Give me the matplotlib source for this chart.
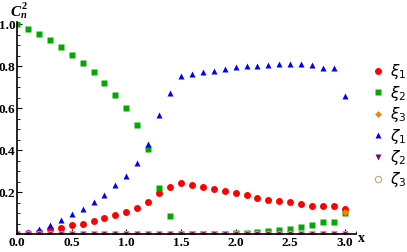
import numpy as np
import matplotlib
matplotlib.use("Agg")
import matplotlib.pyplot as plt
from matplotlib.ticker import MultipleLocator

x = [0.0, 0.1, 0.2, 0.3, 0.4, 0.5, 0.6, 0.7, 0.8, 0.9, 1.0, 1.1, 1.2, 1.3, 1.4, 1.5,
     1.6, 1.7, 1.8, 1.9, 2.0, 2.1, 2.2, 2.3, 2.4, 2.5, 2.6, 2.7, 2.8, 2.9, 3.0]

xi1 = [0.0, 0.004, 0.013, 0.025, 0.032, 0.043, 0.051, 0.065, 0.079, 0.093, 0.106, 0.125,
       0.155, 0.197, 0.224, 0.243, 0.233, 0.225, 0.216, 0.206, 0.198, 0.187, 0.174,
       0.164, 0.159, 0.152, 0.144, 0.136, 0.135, 0.136, 0.119]
xi2 = [1.0, 0.978, 0.952, 0.924, 0.89, 0.854, 0.817, 0.771, 0.719, 0.662, 0.6, 0.522,
       0.405, 0.222, 0.089, 0.0, 0.0, 0.0, 0.0, 0.0, 0.004, 0.008, 0.012, 0.016, 0.02,
       0.027, 0.035, 0.043, 0.06, 0.057, 0.1]
xi3 = [0.0] * 30 + [0.108]
zeta1 = [0.0, 0.011, 0.027, 0.046, 0.068, 0.095, 0.119, 0.154, 0.189, 0.233, 0.278, 0.338,
         0.429, 0.567, 0.673, 0.754, 0.763, 0.773, 0.779, 0.789, 0.795, 0.8, 0.803,
         0.806, 0.812, 0.812, 0.81, 0.806, 0.79, 0.792, 0.66]
zeta2 = [0.0] * 31
zeta3 = [0.0] * 31

labels = [r'$\xi_1$', r'$\xi_2$', r'$\xi_3$', r'$\zeta_1$', r'$\zeta_2$', r'$\zeta_3$']

W, H = 407, 252
fig = plt.figure(figsize=(W / 100, H / 100), dpi=100)
ax = fig.add_axes([17 / W, 1 - 234.3 / H, 338.8 / W, 212.1 / H])

ax.plot(x, xi1, 'o', color='#ff0000', ms=5.0, mec='none', label=labels[0])
ax.plot(x, xi2, 's', color='#00aa00', ms=4.0, mec='none', label=labels[1])
ax.plot(x, xi3, 'D', color='#ff8000', ms=3.5, mec='none', label=labels[2])
ax.plot(x, zeta1, '^', color='#0000ff', ms=4.5, mec='none', label=labels[3])
ax.plot(x, zeta2, 'v', color='#800080', ms=4.5, mec='none', label=labels[4])
ax.plot(x, zeta3, 'o', mfc='none', mec='#c8a080', mew=0.8, ms=4.5, label=labels[5])

ax.set_xlim(0, 3.1)
ax.set_ylim(0, 1.01)
for s in ['top', 'right']:
    ax.spines[s].set_visible(False)
for s in ['left', 'bottom']:
    ax.spines[s].set_linewidth(1.2)
ax.xaxis.set_major_locator(MultipleLocator(0.5))
ax.xaxis.set_minor_locator(MultipleLocator(0.1))
ax.yaxis.set_major_locator(MultipleLocator(0.2))
ax.yaxis.set_minor_locator(MultipleLocator(0.05))
ax.tick_params(which='major', direction='in', length=3.5, width=0.8, pad=2)
ax.tick_params(axis='y', which='major', pad=1)
ax.tick_params(which='minor', direction='in', length=2, width=0.6)
ax.set_xticks([0.0, 0.5, 1.0, 1.5, 2.0, 2.5, 3.0])
ax.set_xticklabels(['0.0', '0.5', '1.0', '1.5', '2.0', '2.5', '3.0'])
ax.set_yticks([0.2, 0.4, 0.6, 0.8, 1.0])
ax.set_yticklabels(['0.2', '0.4', '0.6', '0.8', '1.0'])
for lab in ax.get_xticklabels() + ax.get_yticklabels():
    lab.set_fontfamily('Liberation Serif')
    lab.set_fontweight('bold')
    lab.set_fontsize(9.5)

# y-axis label C_n^2
fig.text(10 / W, 1 - 12 / H, 'C', ha='left', va='center', fontsize=11,
         family='Liberation Serif', fontweight='bold', style='italic')
fig.text(20.5 / W, 1 - 16 / H, 'n', ha='left', va='center', fontsize=7.5,
         family='Liberation Serif', fontweight='bold', style='italic')
fig.text(21.5 / W, 1 - 6.5 / H, '2', ha='left', va='center', fontsize=7.5,
         family='Liberation Serif', fontweight='bold')
fig.text(361 / W, 1 - 238 / H, 'x', ha='center', va='center', fontsize=10,
         family='Liberation Serif', fontweight='bold')

leg = ax.legend(loc='upper left', bbox_to_anchor=(372 / W, 1 - 62 / H),
                bbox_transform=fig.transFigure, frameon=False, fontsize=11,
                handlelength=0.8, handletextpad=0.4, labelspacing=0.17,
                borderaxespad=0, borderpad=0)

fig.savefig('out.png', dpi=100)
